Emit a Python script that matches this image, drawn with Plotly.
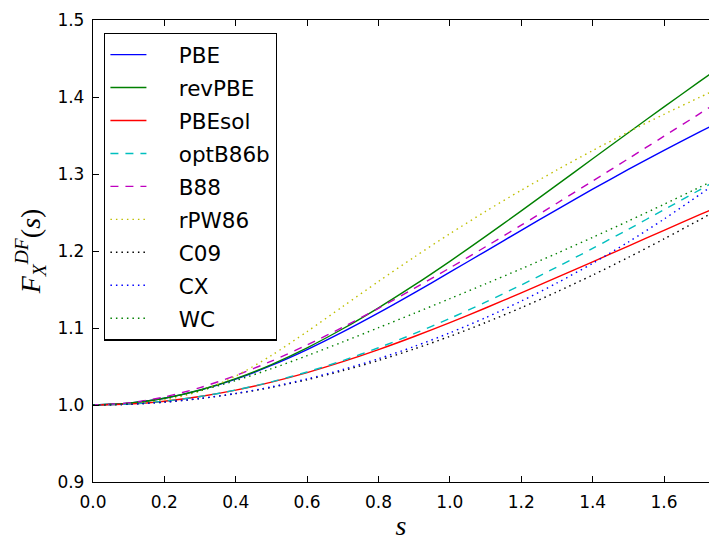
import plotly.graph_objects as go

# reduced gradient s
s = [0.0, 0.1, 0.2, 0.3, 0.4, 0.5, 0.6, 0.7, 0.8, 0.9, 1.0,
     1.1, 1.2, 1.3, 1.4, 1.5, 1.6, 1.7, 1.73]

PBE = [1.0, 1.00219, 1.00869, 1.01929, 1.03365, 1.05136, 1.07195, 1.09487, 1.11959, 1.14561,
       1.17243, 1.19964, 1.22689, 1.25385, 1.28026, 1.30595, 1.33076, 1.35460, 1.36155]
revPBE = [1.0, 1.00219, 1.00872, 1.01945, 1.03416, 1.05256, 1.07431, 1.09901, 1.12624, 1.15558,
          1.18661, 1.21891, 1.25209, 1.28581, 1.31974, 1.35362, 1.38719, 1.42025, 1.43005]
PBEsol = [1.0, 1.00123, 1.00491, 1.01096, 1.01928, 1.02972, 1.04212, 1.05626, 1.07194, 1.08894,
          1.10702, 1.12598, 1.14559, 1.16565, 1.18600, 1.20645, 1.22687, 1.24712, 1.25315]
optB86b = [1.0, 1.00123, 1.00492, 1.01101, 1.01944, 1.03011, 1.04291, 1.05769, 1.07432, 1.09262,
           1.11243, 1.13358, 1.15590, 1.17923, 1.20338, 1.22823, 1.25362, 1.27941, 1.28721]
B88 = [1.0, 1.00271, 1.01047, 1.02258, 1.03830, 1.05699, 1.07807, 1.10107, 1.12561, 1.15136,
       1.17807, 1.20553, 1.23356, 1.26204, 1.29084, 1.31988, 1.34908, 1.37839, 1.38720]
rPW86 = [1.0, 1.00134, 1.00648, 1.01801, 1.03764, 1.06435, 1.09535, 1.12796, 1.16050, 1.19211,
         1.22244, 1.25139, 1.27899, 1.30530, 1.33043, 1.35448, 1.37753, 1.39967, 1.40615]
C09 = [1.0, 1.00093, 1.00370, 1.00830, 1.01472, 1.02292, 1.03288, 1.04453, 1.05784, 1.07275,
       1.08919, 1.10709, 1.12637, 1.14696, 1.16876, 1.19169, 1.21566, 1.24056, 1.24820]
CX = [1.0, 1.00094, 1.00377, 1.00849, 1.01509, 1.02355, 1.03388, 1.04606, 1.06009, 1.07598,
      1.09374, 1.11338, 1.13495, 1.15847, 1.18401, 1.21165, 1.24142, 1.27324, 1.28314]
WC = [1.0, 1.00218, 1.00855, 1.01863, 1.03175, 1.04713, 1.06405, 1.08193, 1.10036, 1.11909,
      1.13807, 1.15732, 1.17694, 1.19704, 1.21769, 1.23892, 1.26067, 1.28285, 1.28957]

names = ["PBE", "revPBE", "PBEsol", "optB86b", "B88", "rPW86", "C09", "CX", "WC"]
series = [PBE, revPBE, PBEsol, optB86b, B88, rPW86, C09, CX, WC]
colors = ["#0000ff", "#008000", "#ff0000", "#00bfbf", "#bf00bf", "#bfbf00", "#000000", "#0000ff", "#008000"]
DASH = "8px,7px"
DOT = "1.5px,4px"
dashes = ["solid", "solid", "solid", DASH, DASH, DOT, DOT, DOT, DOT]

PAD = "\u00a0" * 4

fig = go.Figure()
for i, (n, y, c, d) in enumerate(zip(names, series, colors, dashes)):
    fig.add_trace(go.Scatter(
        x=s, y=y, mode="lines", name=PAD + n, legendgroup=f"g{i}",
        line=dict(color=c, width=1.4, dash=d, shape="spline", smoothing=0.8),
    ))

fig.update_layout(
    width=709, height=541, autosize=False,
    margin=dict(l=93, r=0, t=20, b=59),
    paper_bgcolor="white", plot_bgcolor="white",
    font=dict(family="DejaVu Sans", size=17, color="black"),
    showlegend=True,
    legend=dict(
        x=0.0179, y=0.9725, xanchor="left", yanchor="top",
        bgcolor="white", bordercolor="black", borderwidth=1.4,
        font=dict(family="DejaVu Sans", size=21.5, color="black"),
        tracegroupgap=2, itemwidth=36,
    ),
    xaxis=dict(
        range=[0, 1.726], tickvals=[0, 0.2, 0.4, 0.6, 0.8, 1.0, 1.2, 1.4, 1.6],
        tickformat=".1f", ticks="inside", ticklen=6, tickwidth=1, tickcolor="black",
        showline=True, linecolor="black", linewidth=1.3, mirror="ticks",
        showgrid=False, zeroline=False, ticklabelstandoff=4,
        title=dict(text="<i>s</i>", font=dict(family="Liberation Serif", size=28), standoff=10),
    ),
    yaxis=dict(
        range=[0.9, 1.5], tickvals=[0.9, 1.0, 1.1, 1.2, 1.3, 1.4, 1.5],
        tickformat=".1f", ticks="inside", ticklen=6, tickwidth=1, tickcolor="black",
        showline=True, linecolor="black", linewidth=1.3, mirror=False,
        showgrid=False, zeroline=False, ticklabelstandoff=4,
        title=dict(text="<i>F</i><sub><i>X</i></sub><sup><i>DF</i></sup>(<i>s</i>)",
                   font=dict(family="Liberation Serif", size=28), standoff=8),
    ),
)

fig.write_html("out.html")
